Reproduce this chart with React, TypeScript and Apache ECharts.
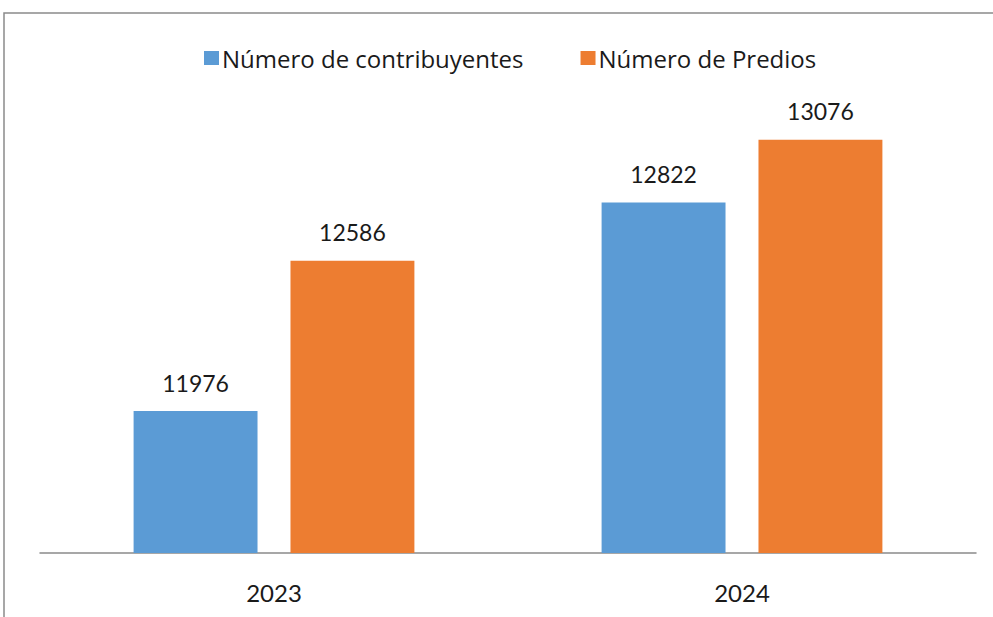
import React, { useEffect, useRef } from "react";
import * as echarts from "echarts";

const categories = ["2023", "2024"];
const contribuyentes = [11976, 12822];
const predios = [12586, 13076];
const seriesNames = ["Número de contribuyentes", "Número de Predios"];

const FONT = "Lato, 'Open Sans', sans-serif";

export default function App() {
  const ref = useRef<HTMLDivElement>(null);
  useEffect(() => {
    if (!ref.current) return;
    const chart = echarts.init(ref.current, null, { renderer: "svg" });
    const labelStyle = {
      show: true,
      position: "top" as const,
      distance: 17,
      color: "#1a1a1a",
      fontSize: 23,
      fontFamily: FONT,
    };
    chart.setOption({
      animation: false,
      backgroundColor: "#fff",
      graphic: [
        {
          type: "rect",
          shape: { x: 4, y: 13, width: 1200, height: 800 },
          style: { fill: "none", stroke: "#8a8a8a", lineWidth: 1.5 },
          silent: true,
        },
      ],
      legend: {
        top: 41,
        left: 199,
        itemWidth: 15,
        itemHeight: 14,
        itemGap: 57,
        icon: "rect",
        textStyle: {
          fontSize: 24,
          color: "#1a1a1a",
          fontFamily: "'Open Sans', Lato, sans-serif",
          padding: [0, 0, 0, -2],
        },
        data: seriesNames,
      },
      grid: { left: 40, right: 17, top: 60, bottom: 64, containLabel: false },
      xAxis: {
        type: "category",
        data: categories,
        axisTick: { show: false },
        axisLine: { lineStyle: { color: "#8a8a8a", width: 1.5 } },
        axisLabel: { fontSize: 24, color: "#1a1a1a", fontFamily: FONT, margin: 27 },
      },
      yAxis: {
        type: "value",
        min: 11400,
        max: 13400,
        show: false,
        splitLine: { show: false },
      },
      series: [
        {
          name: seriesNames[0],
          type: "bar",
          data: contribuyentes,
          itemStyle: { color: "#5B9BD5" },
          barGap: "26.6%",
          barCategoryGap: "40%",
          label: labelStyle,
        },
        {
          name: seriesNames[1],
          type: "bar",
          data: predios,
          itemStyle: { color: "#ED7D31" },
          label: labelStyle,
        },
      ],
    });
    return () => chart.dispose();
  }, []);
  return (
    <div
      ref={ref}
      style={{ position: "absolute", left: 0, top: 0, width: 993, height: 617 }}
    />
  );
}
